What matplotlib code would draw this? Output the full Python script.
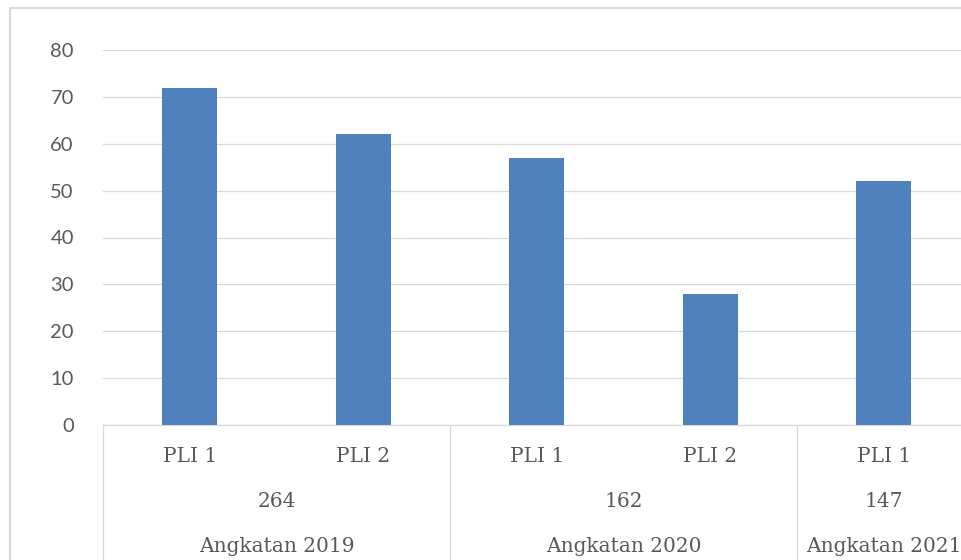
import matplotlib
matplotlib.use('Agg')
import matplotlib.pyplot as plt
from matplotlib.patches import Rectangle
import numpy as np

# Data
categories = ['PLI 1', 'PLI 2', 'PLI 1', 'PLI 2', 'PLI 1']
values = [72, 62, 57, 28, 52]
group_names = ['Angkatan 2019', 'Angkatan 2020', 'Angkatan 2021']
group_totals = ['264', '162', '147']
group_sizes = [2, 2, 1]
y_ticks = [0, 10, 20, 30, 40, 50, 60, 70, 80]

BAR = '#4F81BD'
GRID = '#D9D9D9'
TXT = '#595959'
W, H = 961, 560

fig = plt.figure(figsize=(W / 100, H / 100), dpi=100)
# plot area runs a bit past the right edge (the source image is cropped)
ax = fig.add_axes([103 / W, (H - 425) / H, 867.5 / W, 375 / H])

x = np.arange(len(categories))
ax.bar(x, values, width=0.317, color=BAR, zorder=3)
ax.set_xlim(-0.5, len(categories) - 0.5)
ax.set_ylim(0, 80)
ax.set_yticks(y_ticks)
ax.set_xticks([])
ax.grid(axis='y', color=GRID, linewidth=0.9, zorder=0)
for s in ['top', 'right', 'left']:
    ax.spines[s].set_visible(False)
ax.spines['bottom'].set_color(GRID)
ax.spines['bottom'].set_linewidth(0.9)
ax.tick_params(axis='y', length=0, pad=21, labelsize=14.5, labelcolor=TXT)
for lab in ax.get_yticklabels():
    lab.set_fontfamily('Lato')

trans = ax.get_xaxis_transform()
serif = dict(family='DejaVu Serif', fontsize=14.5, color=TXT,
             ha='center', va='center', transform=trans, clip_on=False)

for xi, cat in zip(x, categories):
    ax.text(xi, -0.085, cat, **serif)

start = 0
for name, total, n in zip(group_names, group_totals, group_sizes):
    center = start + (n - 1) / 2
    ax.text(center, -0.203, total, **serif)
    ax.text(center, -0.325, name, **serif)
    ax.plot([start - 0.5, start - 0.5], [0, -0.5], color=GRID, lw=0.9,
            transform=trans, clip_on=False)
    start += n

# outer chart border (cropped on the right and bottom)
fig.patches.append(Rectangle((10 / W, -0.1), 1.2, (H - 8) / H + 0.1,
                             transform=fig.transFigure, fill=False,
                             edgecolor=GRID, linewidth=1.5))

fig.savefig('out.png', dpi=100)
